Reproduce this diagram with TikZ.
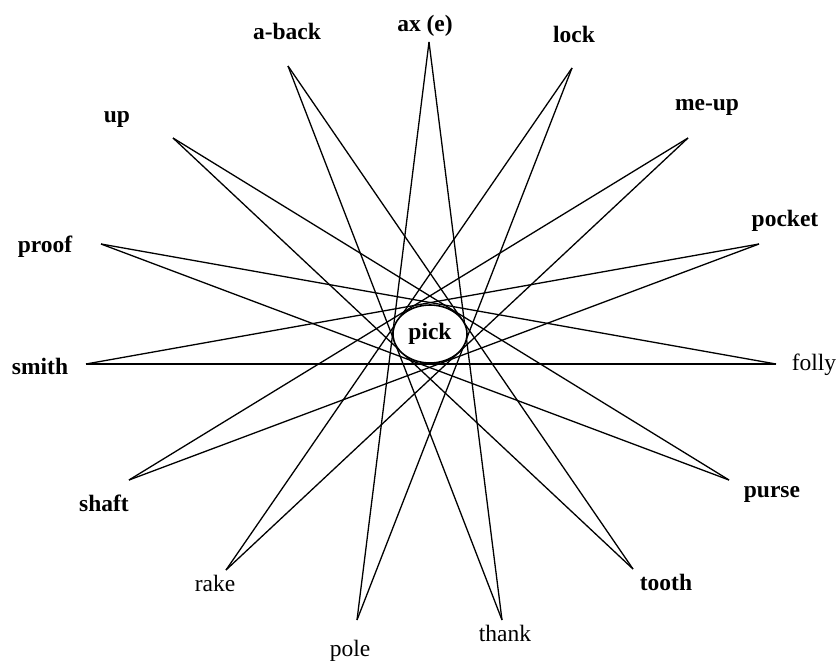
\documentclass[tikz,border=0pt]{standalone}
\usepackage{fontspec}
\setmainfont{Liberation Serif}
\usetikzlibrary{shapes.geometric}

\begin{document}
\begin{tikzpicture}[
    x=1pt, y=-1pt,
    word/.style={font=\fontsize{23.5}{25}\selectfont, inner sep=0pt},
    bword/.style={word, font=\fontsize{23.5}{25}\selectfont\bfseries},
    ray/.style={draw=black, line width=1.3pt},
  ]
    \useasboundingbox (0,0) rectangle (839,661);

    % tips of the star
    \coordinate (axe)    at (429,42);
    \coordinate (lock)   at (572,68);
    \coordinate (meup)   at (688,138);
    \coordinate (pocket) at (759,244);
    \coordinate (folly)  at (776,364);
    \coordinate (purse)  at (729,480);
    \coordinate (tooth)  at (633,569);
    \coordinate (thank)  at (502,620);
    \coordinate (pole)   at (357,620);
    \coordinate (rake)   at (226,570);
    \coordinate (shaft)  at (129,480);
    \coordinate (smith)  at (86,364);
    \coordinate (proof)  at (101,244);
    \coordinate (up)     at (173,138);
    \coordinate (aback)  at (288,66);

    % each tip joins the tips seven places away
    \foreach \a/\b in {axe/thank, lock/pole, meup/rake, pocket/shaft, folly/smith,
                       purse/proof, tooth/up, thank/aback, pole/axe, rake/lock,
                       shaft/meup, smith/pocket, proof/folly, up/purse, aback/tooth}
      \draw[ray] (\a) -- (\b);

    \node[draw, ellipse, fill=white, line width=1.6pt, minimum width=74pt,
          minimum height=58pt, bword] (pick) at (430,334) {pick};

    \node[bword] (l-axe)    at (425,26)  {ax (e)};
    \node[bword] (l-lock)   at (574,34)  {lock};
    \node[bword] (l-meup)   at (707,107) {me-up};
    \node[bword] (l-pocket) at (785,221) {pocket};
    \node[word]  (l-folly)  at (814,365) {folly};
    \node[bword] (l-purse)  at (772,494) {purse};
    \node[bword] (l-tooth)  at (666,582) {tooth};
    \node[word]  (l-thank)  at (505,633) {thank};
    \node[word]  (l-pole)   at (350,651) {pole};
    \node[word]  (l-rake)   at (215,583) {rake};
    \node[bword] (l-shaft)  at (104,503) {shaft};
    \node[bword] (l-smith)  at (40,366)  {smith};
    \node[bword] (l-proof)  at (45,247)  {proof};
    \node[bword] (l-up)     at (117,119) {up};
    \node[bword] (l-aback)  at (287,31)  {a-back};
\end{tikzpicture}
\end{document}
